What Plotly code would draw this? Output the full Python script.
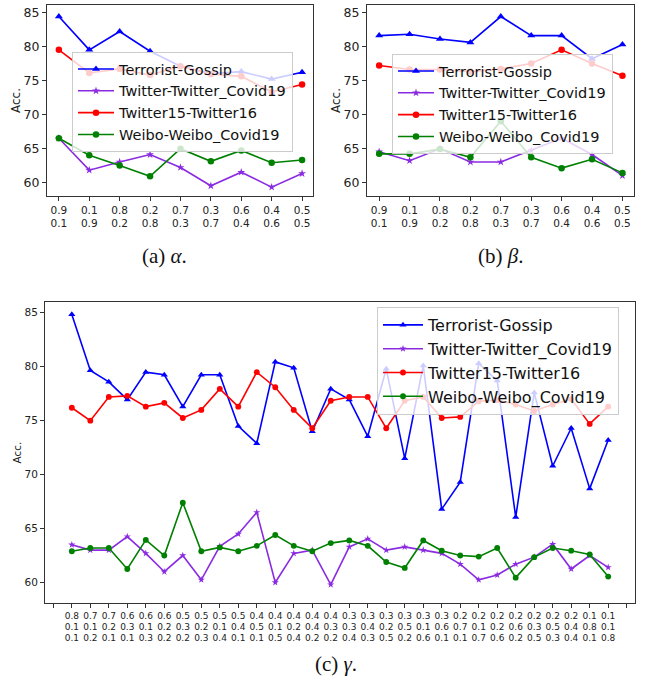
import plotly.graph_objects as go

# ---------------- data ----------------
series_names = ["Terrorist-Gossip", "Twitter-Twitter_Covid19", "Twitter15-Twitter16", "Weibo-Weibo_Covid19"]

ab_top = ["0.9", "0.1", "0.8", "0.2", "0.7", "0.3", "0.6", "0.4", "0.5"]
ab_bottom = ["0.1", "0.9", "0.2", "0.8", "0.3", "0.7", "0.4", "0.6", "0.5"]

alpha_terrorist = [84.4, 79.5, 82.2, 79.3, 77.1, 76.0, 76.3, 75.2, 76.2]
alpha_twitter_covid = [66.5, 61.8, 63.0, 64.1, 62.2, 59.5, 61.5, 59.3, 61.3]
alpha_twitter15 = [79.5, 76.1, 76.7, 75.8, 77.1, 75.9, 75.6, 73.3, 74.4]
alpha_weibo = [66.5, 64.0, 62.5, 60.9, 64.95, 63.1, 64.7, 62.9, 63.3]

beta_terrorist = [81.6, 81.8, 81.1, 80.6, 84.4, 81.6, 81.6, 78.2, 80.3]
beta_twitter_covid = [64.5, 63.2, 64.95, 63.0, 63.0, 64.7, 66.5, 64.1, 61.0]
beta_twitter15 = [77.2, 76.6, 76.6, 76.3, 76.7, 77.5, 79.5, 77.5, 75.7]
beta_weibo = [64.2, 64.2, 64.9, 63.7, 69.0, 63.7, 62.1, 63.4, 61.4]

gamma_row1 = ["0.8", "0.7", "0.7", "0.6", "0.6", "0.6", "0.5", "0.5", "0.5", "0.5",
              "0.4", "0.4", "0.4", "0.4", "0.4", "0.3", "0.3", "0.3", "0.3", "0.3",
              "0.3", "0.2", "0.2", "0.2", "0.2", "0.2", "0.2", "0.2", "0.1", "0.1"]
gamma_row2 = ["0.1", "0.1", "0.2", "0.3", "0.1", "0.2", "0.3", "0.2", "0.1", "0.4",
              "0.5", "0.1", "0.2", "0.4", "0.3", "0.3", "0.4", "0.2", "0.5", "0.1",
              "0.6", "0.7", "0.1", "0.2", "0.6", "0.3", "0.5", "0.4", "0.8", "0.1"]
gamma_row3 = ["0.1", "0.2", "0.1", "0.1", "0.3", "0.2", "0.2", "0.3", "0.4", "0.1",
              "0.1", "0.5", "0.4", "0.2", "0.2", "0.4", "0.3", "0.5", "0.2", "0.6",
              "0.1", "0.1", "0.7", "0.6", "0.2", "0.5", "0.3", "0.4", "0.1", "0.8"]

gamma_terrorist = [84.85, 79.65, 78.6, 76.95, 79.5, 79.25, 76.3, 79.25, 79.25, 74.5,
                   72.9, 80.45, 79.9, 74.0, 77.95, 76.95, 73.55, 79.8, 71.5, 80.1,
                   66.8, 69.3, 80.3, 78.7, 66.05, 77.6, 70.8, 74.3, 68.7, 73.2]
gamma_twitter_covid = [63.5, 63.0, 63.0, 64.25, 62.7, 61.0, 62.5, 60.25, 63.35, 64.5,
                       66.5, 60.0, 62.7, 63.0, 59.8, 63.3, 64.05, 63.0, 63.3, 63.0,
                       62.7, 61.7, 60.25, 60.7, 61.7, 62.35, 63.55, 61.25, 62.5, 61.4]
gamma_twitter15 = [76.2, 75.0, 77.2, 77.3, 76.3, 76.65, 75.25, 76.0, 77.95, 76.3,
                   79.5, 78.1, 76.0, 74.3, 76.85, 77.2, 77.2, 74.3, 76.85, 77.2,
                   75.25, 75.35, 76.8, 76.9, 76.5, 75.9, 76.5, 77.0, 74.7, 76.3]
gamma_weibo = [62.9, 63.2, 63.2, 61.25, 63.95, 62.5, 67.4, 62.9, 63.25, 62.9,
               63.4, 64.4, 63.4, 62.9, 63.65, 63.9, 63.4, 61.9, 61.35, 63.9,
               62.95, 62.5, 62.4, 63.2, 60.45, 62.35, 63.2, 62.95, 62.6, 60.55]

colors = ["#0000ff", "#8a2be2", "#ff0000", "#008000"]
symbols = ["triangle-up", "star", "circle", "circle"]
yticks = [60, 65, 70, 75, 80, 85]

FONT = "DejaVu Sans"
W = 647.0
H = 683.0

# ---------------- figure ----------------
fig = go.Figure()

panels = [
    ("x", "y", "legend", [alpha_terrorist, alpha_twitter_covid, alpha_twitter15, alpha_weibo], 1.0),
    ("x2", "y2", "legend2", [beta_terrorist, beta_twitter_covid, beta_twitter15, beta_weibo], 1.0),
    ("x3", "y3", "legend3", [gamma_terrorist, gamma_twitter_covid, gamma_twitter15, gamma_weibo], 0.9),
]
for xa, ya, lg, data, scale in panels:
    for name, vals, col, sym in zip(series_names, data, colors, symbols):
        msize = {"triangle-up": 7, "star": 6, "circle": 6.5}[sym] * scale
        fig.add_trace(go.Scatter(
            x=list(range(len(vals))), y=vals, name=name, mode="lines+markers",
            line=dict(color=col, width=1.6),
            marker=dict(color=col, symbol=sym, size=msize, line=dict(width=0)),
            xaxis=xa, yaxis=ya, legend=lg, showlegend=True,
        ))

# empty traces so the extra tick-label rows (overlaying axes) are drawn
for xa, ya in [("x4", "y"), ("x5", "y2"), ("x6", "y3"), ("x7", "y3")]:
    fig.add_trace(go.Scatter(x=[], y=[], xaxis=xa, yaxis=ya, showlegend=False, hoverinfo="skip"))

axis_common = dict(showline=True, linecolor="#333333", linewidth=1, mirror=True,
                   ticks="outside", ticklen=4, tickcolor="#333333", tickwidth=1,
                   showgrid=False, zeroline=False)
row_common = dict(showline=False, ticks="outside", ticklen=4, tickcolor="rgba(0,0,0,0)",
                  showgrid=False, zeroline=False, side="bottom")

g_ticks = list(range(-1, 31))
g_r1 = [""] + gamma_row1 + [""]
g_r2 = [""] + gamma_row2 + [""]
g_r3 = [""] + gamma_row3 + [""]

ab_range_a = [-0.39, 8.36]
ab_range_b = [-0.4, 8.38]
g_range = [-1.45, 30.45]

tf_ab = dict(family=FONT, size=10.5, color="#222222")
tf_g = dict(family=FONT, size=9, color="#222222")

legend_common = dict(xanchor="left", yanchor="top", bgcolor="rgba(255,255,255,0.8)",
                     bordercolor="#cccccc", borderwidth=1)

fig.update_layout(
    width=647, height=683,
    margin=dict(l=0, r=0, t=0, b=0),
    paper_bgcolor="white", plot_bgcolor="white",
    font=dict(family=FONT, color="#222222"),
    xaxis=dict(domain=[47 / W, 313 / W], range=ab_range_a, anchor="y",
               tickvals=list(range(9)), ticktext=ab_top, tickfont=tf_ab, **axis_common),
    xaxis4=dict(overlaying="x", anchor="y", range=ab_range_a,
                tickvals=list(range(9)), ticktext=ab_bottom, tickfont=tf_ab,
                ticklabelstandoff=13, **row_common),
    yaxis=dict(domain=[1 - 196 / H, 1 - 5 / H], range=[58.0, 86.1], anchor="x",
               tickvals=yticks, tickfont=dict(family=FONT, size=12.5, color="#222222"),
               title=dict(text="Acc.", font=dict(family=FONT, size=12), standoff=0), **axis_common),
    xaxis2=dict(domain=[367 / W, 634 / W], range=ab_range_b, anchor="y2",
                tickvals=list(range(9)), ticktext=ab_top, tickfont=tf_ab, **axis_common),
    xaxis5=dict(overlaying="x2", anchor="y2", range=ab_range_b,
                tickvals=list(range(9)), ticktext=ab_bottom, tickfont=tf_ab,
                ticklabelstandoff=13, **row_common),
    yaxis2=dict(domain=[1 - 196 / H, 1 - 5 / H], range=[58.0, 86.1], anchor="x2",
                tickvals=yticks, tickfont=dict(family=FONT, size=12.5, color="#222222"),
                title=dict(text="Acc.", font=dict(family=FONT, size=12), standoff=0), **axis_common),
    xaxis3=dict(domain=[45 / W, 635 / W], range=g_range, anchor="y3",
                tickvals=g_ticks, ticktext=g_r1, tickfont=tf_g, tickangle=0, **axis_common),
    xaxis6=dict(overlaying="x3", anchor="y3", range=g_range, tickangle=0,
                tickvals=g_ticks, ticktext=g_r2, tickfont=tf_g,
                ticklabelstandoff=11, **row_common),
    xaxis7=dict(overlaying="x3", anchor="y3", range=g_range, tickangle=0,
                tickvals=g_ticks, ticktext=g_r3, tickfont=tf_g,
                ticklabelstandoff=22, **row_common),
    yaxis3=dict(domain=[1 - 603 / H, 1 - 302 / H], range=[58.1, 86.0], anchor="x3",
                tickvals=yticks, tickfont=dict(family=FONT, size=10.5, color="#222222"),
                title=dict(text="Acc.", font=dict(family=FONT, size=10.5), standoff=0), **axis_common),
    legend=dict(x=72 / W, y=1 - 52 / H, itemwidth=36,
                font=dict(family=FONT, size=14.5, color="#111111"), **legend_common),
    legend2=dict(x=392 / W, y=1 - 54 / H, itemwidth=36,
                 font=dict(family=FONT, size=14.5, color="#111111"), **legend_common),
    legend3=dict(x=377 / W, y=1 - 307 / H, itemwidth=40,
                 font=dict(family=FONT, size=16, color="#111111"), **legend_common),
)

captions = [("(a) <i>α</i>.", 165, 256), ("(b) <i>β</i>.", 500, 256), ("(c) <i>γ</i>.", 336, 664)]
for text, cx, cy in captions:
    fig.add_annotation(text=text, x=cx / W, y=1 - cy / H, xref="paper", yref="paper",
                       showarrow=False, xanchor="center", yanchor="middle",
                       font=dict(family="Liberation Serif", size=21, color="#111111"))

fig.write_html("out.html", config={"displayModeBar": False},
               post_script="document.body.style.margin='0px';document.body.style.padding='0px';")
